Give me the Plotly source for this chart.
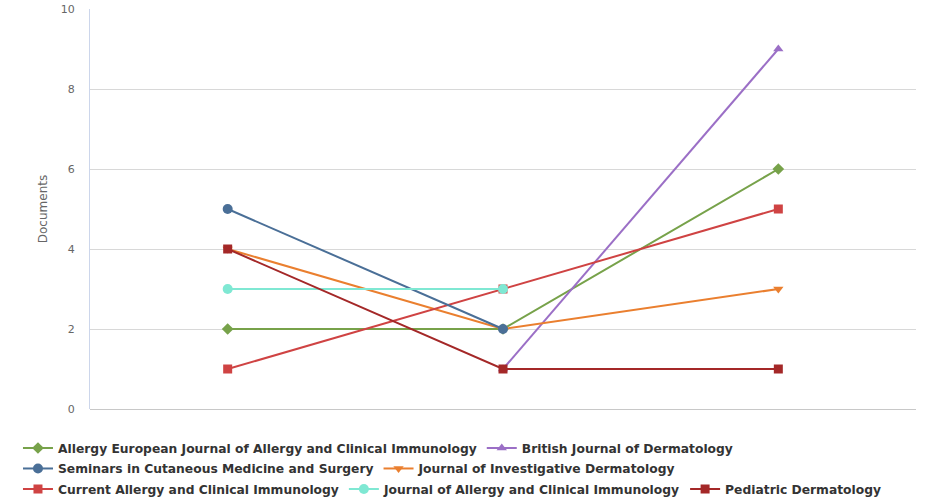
import plotly.graph_objects as go

categories = ["1", "2", "3"]

series_names = [
    "Allergy European Journal of Allergy and Clinical Immunology",
    "British Journal of Dermatology",
    "Seminars in Cutaneous Medicine and Surgery",
    "Journal of Investigative Dermatology",
    "Current Allergy and Clinical Immunology",
    "Journal of Allergy and Clinical Immunology",
    "Pediatric Dermatology",
]
allergy_european = [2, 2, 6]
british_derm = [None, 1, 9]
seminars = [5, 2, None]
investigative = [4, 2, 3]
current_allergy = [1, 3, 5]
journal_allergy = [3, 3, None]
pediatric = [4, 1, 1]

values = [allergy_european, british_derm, seminars, investigative,
          current_allergy, journal_allergy, pediatric]
colors = ["#77a24a", "#9b6fc6", "#4a6f97", "#ea7f2f", "#cf4343", "#7fe8d3", "#a42828"]
symbols = ["diamond", "triangle-up", "circle", "triangle-down", "square", "circle", "square"]
msizes = [9, 9, 10, 9, 9, 10, 9]
legend_ids = ["legend", "legend", "legend2", "legend2", "legend3", "legend3", "legend3"]
draw_order = [0, 1, 3, 4, 2, 5, 6]

fig = go.Figure()
for i in draw_order:
    fig.add_trace(go.Scatter(
        x=categories, y=values[i], name=series_names[i], mode="lines+markers",
        line=dict(color=colors[i], width=2),
        marker=dict(color=colors[i], symbol=symbols[i], size=msizes[i]),
        legend=legend_ids[i], legendrank=i + 1,
    ))

legend_font = dict(family="DejaVu Sans", size=12.3, color="#333333", weight="bold")
lx = -0.0872
common = dict(orientation="h", x=lx, xanchor="left", yanchor="middle",
              font=legend_font, bgcolor="rgba(0,0,0,0)", borderwidth=0,
              itemclick=False, tracegroupgap=0)

fig.update_layout(
    width=936, height=498,
    margin=dict(l=90, r=20, t=9, b=89, autoexpand=False),
    paper_bgcolor="white", plot_bgcolor="white",
    font=dict(family="DejaVu Sans", color="#666666", size=11),
    showlegend=True,
    legend=dict(y=-0.0975, **common),
    legend2=dict(y=-0.1487, **common),
    legend3=dict(y=-0.2, **common),
    xaxis=dict(showticklabels=False, showgrid=False, zeroline=False,
               showline=False, ticks="", range=[-0.5, 2.5], type="category"),
    yaxis=dict(range=[0, 10], dtick=2, showgrid=True, gridcolor="#d8d8d8",
               zeroline=True, zerolinecolor="#c8c8c8", zerolinewidth=1,
               showline=True, linecolor="#ccd6eb", linewidth=1,
               ticks="", ticklabelstandoff=12, tickfont=dict(size=11, color="#666666"),
               title=dict(text="Documents", font=dict(size=12, color="#666666"), standoff=10)),
)

fig.write_html("out.html", config={"displayModeBar": False},
               post_script="document.body.style.margin='0px';document.body.style.overflow='hidden';")
